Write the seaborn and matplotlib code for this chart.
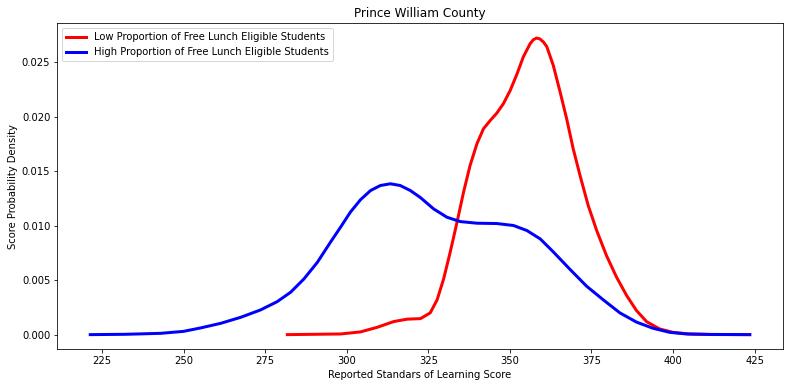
import pandas as pd
import matplotlib
matplotlib.use("Agg")
import matplotlib.pyplot as plt
import seaborn as sns

# Density curves (score, density)
low_score = [281.8, 298.1, 304.2, 309.3, 314.4, 318.5, 322.6, 325.6, 327.7, 329.7,
             331.7, 333.8, 335.8, 337.8, 339.9, 341.9, 344.0, 346.0, 348.0, 350.1,
             352.1, 354.1, 356.2, 357.2, 358.2, 359.2, 360.3, 361.3, 363.3, 365.4,
             367.4, 369.4, 371.5, 374.0, 376.6, 379.6, 382.7, 385.8, 388.8, 391.9,
             395.9, 400.0, 405.1, 412.0, 423.5]
low_density = [0.0, 0.00006, 0.00025, 0.00067, 0.0012, 0.00142, 0.00147, 0.002, 0.0032, 0.00512,
               0.00756, 0.01032, 0.01308, 0.01553, 0.01752, 0.0189, 0.01967, 0.02034, 0.0212, 0.02242,
               0.02387, 0.02549, 0.02671, 0.02708, 0.02723, 0.02715, 0.02686, 0.02645, 0.02472, 0.02227,
               0.01982, 0.01707, 0.01461, 0.01186, 0.00956, 0.00726, 0.00527, 0.00358, 0.00221, 0.00119,
               0.00052, 0.00021, 0.00006, 0.00001, 0.0]

high_score = [221.4, 232.0, 243.0, 250.0, 255.3, 261.4, 267.5, 273.6, 278.7, 282.8,
              286.9, 291.0, 295.0, 298.1, 301.1, 304.2, 307.3, 310.3, 313.4, 316.4,
              319.5, 322.6, 326.6, 330.7, 334.8, 339.9, 346.0, 351.1, 355.2, 359.3,
              363.3, 368.4, 373.5, 378.6, 383.7, 388.8, 393.9, 399.0, 404.1, 411.2,
              423.5]
high_density = [0.0, 0.00003, 0.00012, 0.0003, 0.00062, 0.00104, 0.00159, 0.00227, 0.00303, 0.00389,
                0.00512, 0.00664, 0.00848, 0.00986, 0.01124, 0.01238, 0.01323, 0.01369, 0.01385, 0.01369,
                0.01323, 0.01258, 0.01155, 0.01078, 0.01038, 0.01023, 0.0102, 0.01002, 0.00956, 0.00879,
                0.0076, 0.006, 0.00445, 0.0032, 0.002, 0.00115, 0.00058, 0.00021, 0.00006, 0.00002,
                0.0]

low_label = "Low Proportion of Free Lunch Eligible Students"
high_label = "High Proportion of Free Lunch Eligible Students"

df = pd.concat([
    pd.DataFrame({"score": low_score, "density": low_density, "group": low_label}),
    pd.DataFrame({"score": high_score, "density": high_density, "group": high_label}),
])

fig, ax = plt.subplots(figsize=(789 / 72, 387 / 72), dpi=72)
fig.subplots_adjust(left=0.0726, right=0.992, top=0.94, bottom=0.097)

sns.lineplot(data=df, x="score", y="density", hue="group",
             hue_order=[low_label, high_label],
             palette={low_label: "red", high_label: "blue"},
             linewidth=3, estimator=None, ax=ax)

handles, labels = ax.get_legend_handles_labels()
ax.legend(handles, labels, loc="upper left")
ax.margins(0.05)
ax.set_title("Prince William County")
ax.set_xlabel("Reported Standars of Learning Score")
ax.set_ylabel("Score Probability Density")

fig.savefig("out.png", dpi=72)
